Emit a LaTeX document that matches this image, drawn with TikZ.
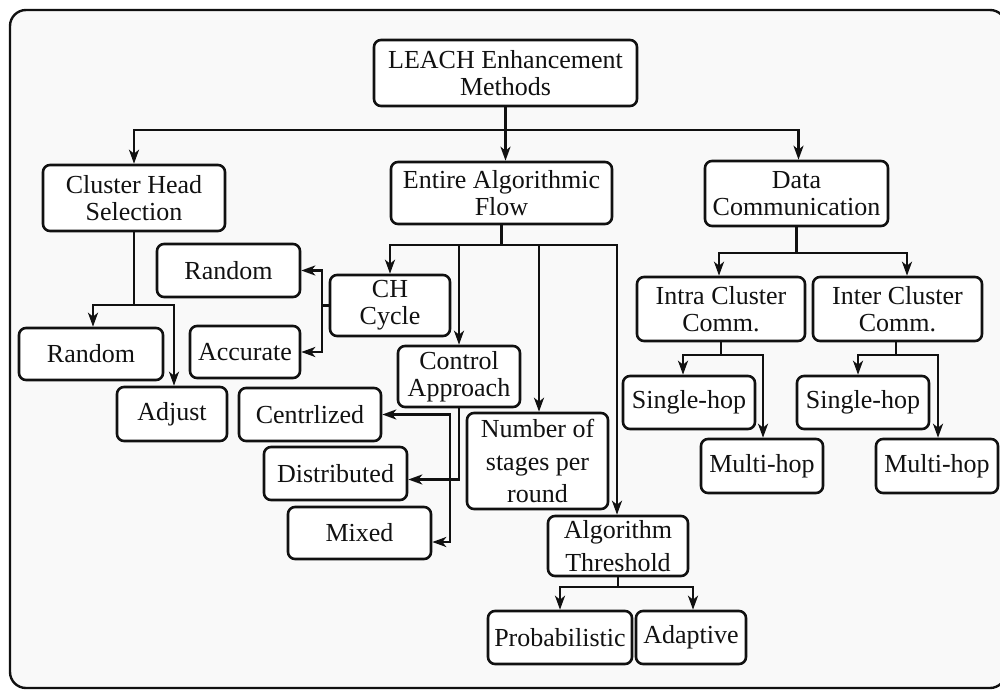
\documentclass[tikz,border=0pt]{standalone}
\usepackage{fontspec}
\setmainfont{Liberation Serif}
\usetikzlibrary{arrows.meta}
\definecolor{ink}{HTML}{111111}
\definecolor{panel}{HTML}{F9F9F9}
\begin{document}
\begin{tikzpicture}[x=1pt,y=-1pt,
  box/.style={draw=ink, line width=2.6pt, rounded corners=7pt, fill=white,
    inner sep=0pt, align=center, text=ink, font=\fontsize{26}{27}\selectfont},
  loose/.style={font=\fontsize{26}{32.5}\selectfont},
  link/.style={draw=ink, line width=2.4pt},
  tip/.tip={Stealth[length=14pt,width=10pt,inset=4pt]},
  arr/.style={link, -tip},
  both/.style={link, tip-tip}]

\useasboundingbox (0,0) rectangle (1000,690);
% panel behind the tree
\draw[draw=ink, line width=2.4pt, fill=panel, rounded corners=16pt] (10,10) rectangle (1006,688);

% root and first level
\node[box, minimum width=263pt, minimum height=66pt] (top) at (505.5,73) {LEACH Enhancement\\Methods};
\node[box, minimum width=182pt, minimum height=66pt] (chs) at (134,198) {Cluster Head\\Selection};
\node[box, minimum width=221pt, minimum height=62pt] (eaf) at (501.5,193) {Entire Algorithmic\\Flow};
\node[box, minimum width=183pt, minimum height=65pt] (dc) at (796.5,193.5) {Data\\Communication};

% cluster head selection
\node[box, minimum width=144pt, minimum height=52pt] (rand1) at (91,354) {Random};
\node[box, minimum width=110pt, minimum height=54pt] (adjust) at (172,414) {Adjust};

% entire algorithmic flow
\node[box, minimum width=120pt, minimum height=61pt] (chc) at (390,305.5) {CH\\Cycle};
\node[box, minimum width=143pt, minimum height=53pt] (rand2) at (228.5,270.5) {Random};
\node[box, minimum width=110pt, minimum height=52pt] (accurate) at (245,352) {Accurate};
\node[box, minimum width=122pt, minimum height=61pt] (ctrl) at (459,376.5) {Control\\Approach};
\node[box, minimum width=142pt, minimum height=53pt] (cent) at (310,414.5) {Centrlized};
\node[box, minimum width=143pt, minimum height=53pt] (dist) at (335.5,473.5) {Distributed};
\node[box, minimum width=143pt, minimum height=52pt] (mixed) at (359.5,533) {Mixed};
\node[box, loose, minimum width=141pt, minimum height=96pt] (nsr) at (537.5,461) {Number of\\stages per\\round};
\node[box, loose, minimum width=140pt, minimum height=60pt] (athr) at (618,546) {Algorithm\\Threshold};
\node[box, minimum width=144pt, minimum height=53pt] (prob) at (560,637.5) {Probabilistic};
\node[box, minimum width=110pt, minimum height=53pt] (adap) at (691,637.5) {Adaptive};

% data communication
\node[box, minimum width=168pt, minimum height=64pt] (intra) at (721,309) {Intra Cluster\\Comm.};
\node[box, minimum width=169pt, minimum height=64pt] (inter) at (897.5,309) {Inter Cluster\\Comm.};
\node[box, minimum width=132pt, minimum height=53pt] (sh1) at (689,402.5) {Single-hop};
\node[box, minimum width=122pt, minimum height=54pt] (mh1) at (762,466) {Multi-hop};
\node[box, minimum width=132pt, minimum height=53pt] (sh2) at (863,402.5) {Single-hop};
\node[box, minimum width=122pt, minimum height=54pt] (mh2) at (937,466) {Multi-hop};

% junction levels
\coordinate (jtop) at (0,130);
\coordinate (jchs) at (0,305);
\coordinate (jeaf) at (0,245);
\coordinate (jchc) at (322,0);
\coordinate (jctl) at (450,480);
\coordinate (jath) at (0,587);
\coordinate (jdc) at (0,253);
\coordinate (jsub) at (0,355);

% root fan-out
\draw[arr] (top.south) -- (top.south |- eaf.north);
\draw[arr] (top.south |- jtop) -| (chs.north);
\draw[arr] (top.south |- jtop) -| ([xshift=2pt]dc.north);

% cluster head selection
\draw[link] (chs.south) -- (chs.south |- jchs);
\draw[arr] (chs.south |- jchs) -| ([xshift=2pt]rand1.north);
\draw[arr] (chs.south |- jchs) -| ([xshift=2pt]adjust.north);

% entire algorithmic flow
\draw[link] (eaf.south) -- (eaf.south |- jeaf);
\draw[arr] (eaf.south |- jeaf) -| (chc.north);
\draw[arr] (eaf.south |- jeaf) -| (ctrl.north);
\draw[arr] (eaf.south |- jeaf) -| ([xshift=1.5pt]nsr.north);
\draw[arr] (eaf.south |- jeaf) -| ([xshift=-1pt]athr.north);

% CH cycle
\draw[link] (chc.west) -- (chc.west -| jchc);
\draw[arr] (chc.west -| jchc) |- (rand2.east);
\draw[arr] (chc.west -| jchc) |- (accurate.east);

% control approach
\draw[arr] (ctrl.south) |- ([yshift=-6pt]dist.east);
\draw[both] (cent.east) -| (jctl) |- ([yshift=-9pt]mixed.east);

% algorithm threshold
\draw[link] (athr.south) -- (athr.south |- jath);
\draw[arr] (athr.south |- jath) -| (prob.north);
\draw[arr] (athr.south |- jath) -| ([xshift=2pt]adap.north);

% data communication
\draw[link] (dc.south) -- (dc.south |- jdc);
\draw[arr] (dc.south |- jdc) -| ([xshift=-2pt]intra.north);
\draw[arr] (dc.south |- jdc) -| ([xshift=9.5pt]inter.north);

\draw[link] (intra.south) -- (intra.south |- jsub);
\draw[arr] (intra.south |- jsub) -| ([xshift=-6pt]sh1.north);
\draw[arr] (intra.south |- jsub) -| ([xshift=1pt]mh1.north);

\draw[link] ([xshift=-1.5pt]inter.south) -- ([xshift=-1.5pt]inter.south |- jsub);
\draw[arr] ([xshift=-1.5pt]inter.south |- jsub) -| ([xshift=-5pt]sh2.north);
\draw[arr] ([xshift=-1.5pt]inter.south |- jsub) -| ([xshift=1pt]mh2.north);
\end{tikzpicture}
\end{document}
